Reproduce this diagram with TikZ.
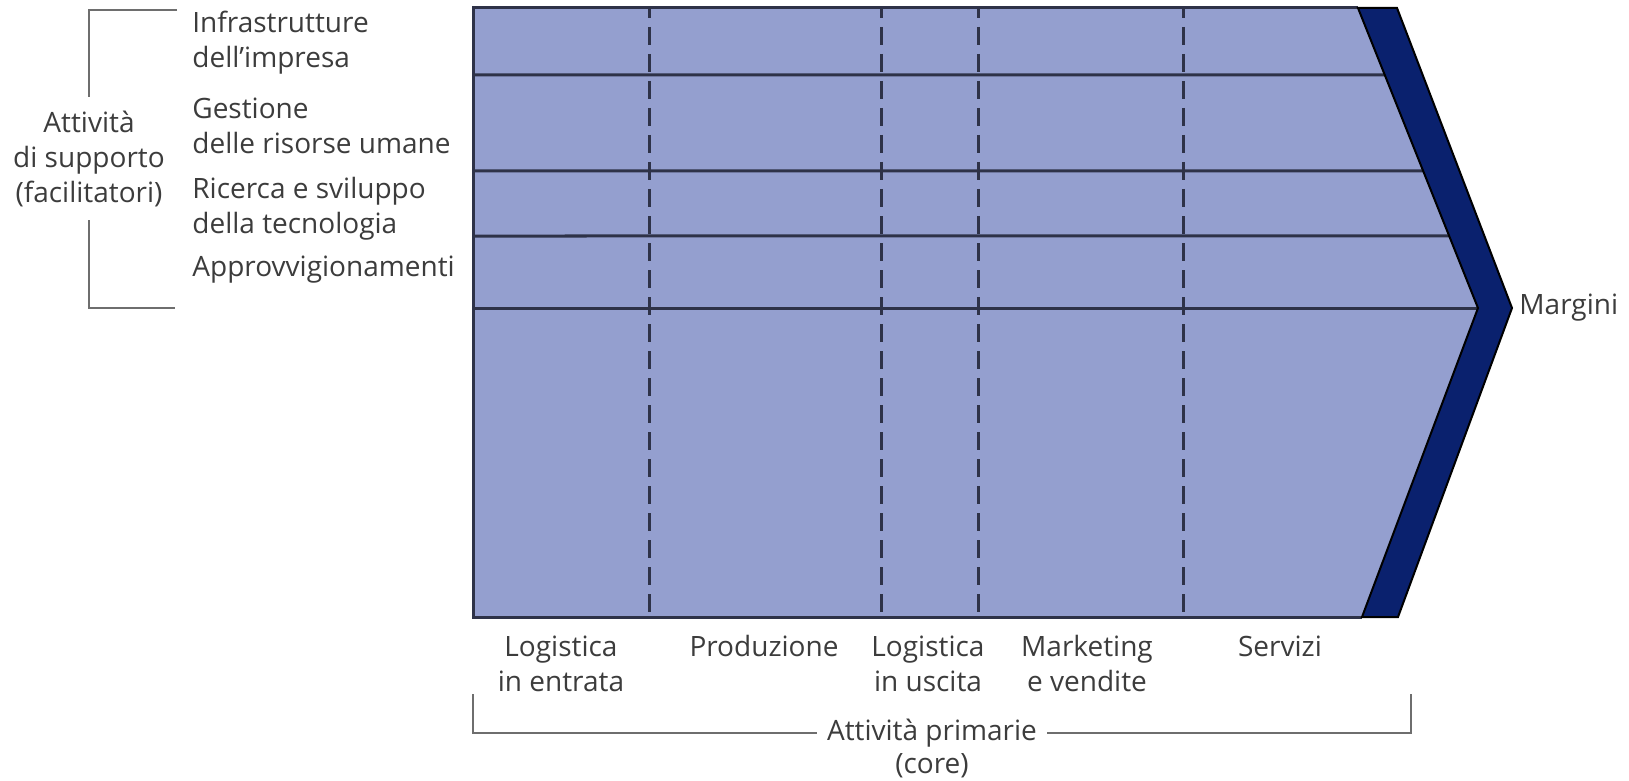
\documentclass[tikz,border=0pt]{standalone}
\usepackage{fontspec}
\setmainfont{Open Sans}
\usetikzlibrary{calc,positioning}
\definecolor{catena}{RGB}{148,159,207}
\definecolor{margine}{RGB}{10,33,110}
\definecolor{riga}{RGB}{46,50,72}
\definecolor{testo}{RGB}{60,60,60}
\definecolor{graffa}{RGB}{110,110,110}

\begin{document}
\begin{tikzpicture}[x=0.5pt,y=-0.5pt,
    every node/.style={font=\fontsize{14}{17.5}\selectfont, text=testo},
    voce/.style={anchor=west, align=left, inner sep=0pt},
    fase/.style={align=center, inner sep=0pt},
    divisore/.style={riga, line width=1.5pt},
    tratteggio/.style={riga, line width=1.5pt, dash pattern=on 9pt off 4.5pt, dash phase=4pt},
    parentesi/.style={graffa, line width=1.1pt}]
    \useasboundingbox (0,0) rectangle (1629,781);
    % punti della freccia
    \coordinate (ti) at (1358,8);
    \coordinate (te) at (1397,8);
    \coordinate (pi) at (1478,308);
    \coordinate (pe) at (1512,308);
    \coordinate (bi) at (1362,617);
    \coordinate (be) at (1398,617);
    \fill [catena] (473,8) -- (ti) -- (pi) -- (bi) -- (473,617) -- cycle;
    \foreach \x in {649,881,978,1183}
        \draw [tratteggio] (\x,8) -- (\x,617);
    \foreach \y in {75,171,236}
        \draw [divisore] (473,\y) -- ($(ti)!{(\y-8)/300}!(pi)$);
    \draw [divisore] (473,308) -- (pi);
    \draw [divisore] (bi) -- (473,617) -- (473,8) -- (ti);
    \draw [draw=black, fill=margine, line width=1pt] (ti) -- (te) -- (pe) -- (be) -- (bi) -- (pi) -- cycle;
    \node [anchor=west, inner sep=0pt] (margini) at (1519,308) {Margini};
%    \draw (pe) -- (margini.west);
    % attivita di supporto
    \node [voce] (infra) at (192,42.5) {Infrastrutture\\dell’impresa};
    \node [voce] (risorse) at (192,125.5) {Gestione\\delle risorse umane};
    \node [voce] (ricerca) at (192,208.5) {Ricerca e sviluppo\\della tecnologia};
    \node [voce] (approv) at (192,270) {Approvvigionamenti};
    \node [fase, inner ysep=6.7pt] (supporto) at (89,158.5) {Attività\\di supporto\\(facilitatori)};
    \draw [parentesi] (177,10) -| (supporto.north);
    \draw [parentesi] (supporto.south) |- (175,308);
    % attivita primarie
    \foreach \x/\y/\t/\n in {561/663.5/{Logistica\\in entrata}/entrata,
                             764/646/{Produzione}/produzione,
                             928/663.5/{Logistica\\in uscita}/uscita,
                             1087/663.5/{Marketing\\e vendite}/vendite,
                             1280/646/{Servizi}/servizi}
        \node [fase] (\n) at (\x,\y) {\t};
    \node [fase, inner xsep=5pt] (primarie) at (932,733) {Attività primarie};
    \node [fase] (core) at (932,766) {(core)};
    \draw [parentesi] (473,694) |- (primarie.west);
    \draw [parentesi] (primarie.east) -| (1411,694);
\end{tikzpicture}
\end{document}
